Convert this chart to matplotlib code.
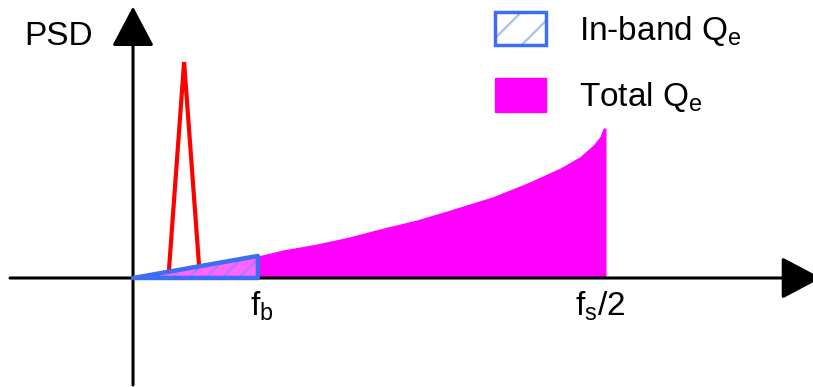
import matplotlib
matplotlib.use('Agg')
import matplotlib.pyplot as plt
from matplotlib.patches import Polygon, Patch, FancyArrowPatch

plt.rcParams['font.family'] = ['Liberation Sans', 'DejaVu Sans']
plt.rcParams['mathtext.fontset'] = 'custom'
plt.rcParams['mathtext.rm'] = 'Liberation Sans'
plt.rcParams['mathtext.it'] = 'Liberation Sans:italic'
plt.rcParams['hatch.linewidth'] = 1.6

# normalised frequency (fs/2 = 1) and noise PSD shape
freq = [0.0, 0.264, 0.317, 0.389, 0.459, 0.529, 0.600, 0.670, 0.761, 0.833,
        0.903, 0.945, 0.973, 0.987, 0.994, 1.0]
psd = [0.0, 0.147, 0.187, 0.227, 0.275, 0.333, 0.387, 0.453, 0.542, 0.633,
       0.733, 0.809, 0.887, 0.942, 1.0, 1.0]
f_band = 0.264

# signal tone
tone_f = [0.076, 0.108, 0.1395]
tone_p = [0.053, 1.44, 0.087]

magenta = '#ff00ff'
blue = '#3d6ef2'
light_blue = '#a9bdf4'

fig = plt.figure(figsize=(8.13, 3.87), dpi=100)
ax = fig.add_axes([0, 0, 1, 1])
ax.set_xlim(-0.2812, 1.4376)
ax.set_ylim(-0.7267, 1.8533)
ax.axis('off')

# total quantisation noise
ax.fill_between(freq, psd, 0, color=magenta, lw=0, zorder=1)

# axes with arrow heads
for a, b in [((-0.26, 0), (1.455, 0)), ((0, -0.713), (0, 1.81))]:
    arr = FancyArrowPatch(a, b, arrowstyle='-|>,head_length=1.25,head_width=0.66',
                          mutation_scale=20, lw=2.2, color='black',
                          shrinkA=0, shrinkB=0, zorder=3)
    ax.add_patch(arr)

ax.plot(tone_f, tone_p, color='red', lw=3, zorder=2, solid_joinstyle='miter')

# in-band part of the noise
tri = [(0, 0), (f_band, psd[1]), (f_band, 0)]
ax.add_patch(Polygon(tri, closed=True, facecolor=(1, 1, 1, 0.4), edgecolor=(0.6, 0.5, 1.0, 0.8),
                     hatch='//', lw=0, zorder=4))
ax.add_patch(Polygon(tri, closed=True, facecolor='none', edgecolor=blue,
                     lw=3.2, joinstyle='round', zorder=5))

ax.text(-0.2304, 1.553, 'PSD', fontsize=24, va='baseline')
ax.text(0.247, -0.253, r'f$_\mathrm{b}$', fontsize=24, va='baseline')
ax.text(0.934, -0.253, r'f$_\mathrm{s}$/2', fontsize=24, va='baseline')

inband_handle = (Patch(facecolor='white', edgecolor=light_blue, hatch='/', lw=0),
                 Patch(facecolor='none', edgecolor=blue, lw=2.5, joinstyle='round'))
total_handle = Patch(facecolor=magenta, edgecolor=magenta, lw=1, joinstyle='round')
labels = [r'In-band Q$_\mathrm{e}$', r'Total Q$_\mathrm{e}$']
ax.legend([inband_handle, total_handle], labels, loc='upper left',
          bbox_to_anchor=(495 / 813, 1 - 12 / 387),
          bbox_transform=fig.transFigure, frameon=False, fontsize=24,
          handlelength=1.53, handleheight=1.15, handletextpad=1.0,
          labelspacing=0.92, borderpad=0, borderaxespad=0)

fig.savefig('out.png', dpi=100)
